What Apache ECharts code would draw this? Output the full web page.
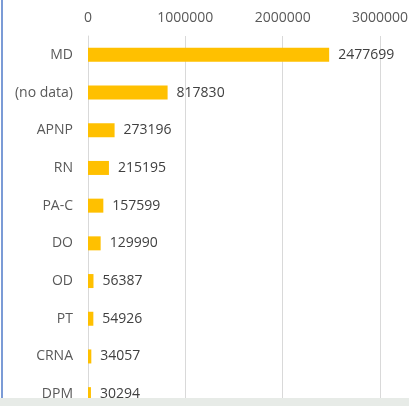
<!DOCTYPE html>
<html>
<head>
<meta charset="UTF-8">
<title></title>
<script src="https://cdn.jsdelivr.net/npm/echarts@6/dist/echarts.min.js"></script>
<style>
  html, body { margin: 0; padding: 0; background: #fff; }
  #chartArea { width: 409px; height: 406px; }
</style>
</head>
<body>
<div id="chartArea"></div>
<script type="text/javascript">
var categories = ['MD', '(no data)', 'APNP', 'RN', 'PA-C', 'DO', 'OD', 'PT', 'CRNA', 'DPM'];
var counts = [2477699, 817830, 273196, 215195, 157599, 129990, 56387, 54926, 34057, 30294];
var xTicks = [0, 1000000, 2000000, 3000000];

var myChart = echarts.init(document.getElementById('chartArea'));
var option = {
  animation: false,
  grid: { left: 88, right: 29, top: 36, bottom: -7, containLabel: false, outerBoundsMode: 'none' },
  xAxis: {
    type: 'value',
    position: 'top',
    min: xTicks[0],
    max: xTicks[xTicks.length - 1],
    interval: 1000000,
    axisLine: { show: false },
    axisTick: { show: false },
    splitLine: { lineStyle: { color: '#d9d9d9', width: 1 } },
    axisLabel: {
      color: '#595959', fontSize: 14, fontFamily: 'Open Sans', margin: 11,
      formatter: function (v) { return String(v); }
    }
  },
  yAxis: {
    type: 'category',
    inverse: true,
    data: categories,
    axisLine: { show: true, lineStyle: { color: '#d9d9d9' } },
    axisTick: { show: false },
    axisLabel: { color: '#595959', fontSize: 14, fontFamily: 'Open Sans', margin: 15 }
  },
  series: [{
    type: 'bar',
    data: counts,
    barWidth: 14,
    itemStyle: { color: '#ffc000' },
    label: {
      show: true,
      position: 'right',
      distance: 9,
      color: '#404040',
      fontSize: 14,
      fontFamily: 'Open Sans'
    }
  }],
  graphic: [
    { type: 'rect', shape: { x: 0, y: 398, width: 409, height: 8 }, style: { fill: '#e7ebe7' }, z: 100 },
    { type: 'rect', shape: { x: 1, y: 0, width: 2, height: 398 }, style: { fill: '#7b9bd6' }, z: 100 }
  ]
};
myChart.setOption(option);
</script>
</body>
</html>
